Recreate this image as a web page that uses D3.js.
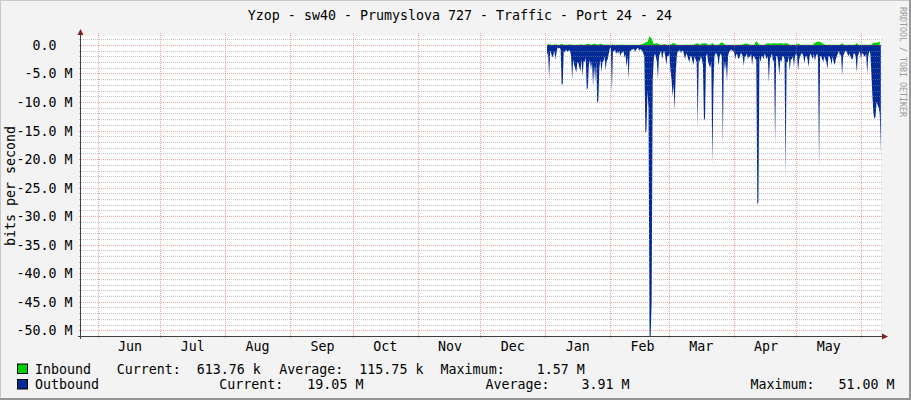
<!DOCTYPE html>
<html><head><meta charset="utf-8">
<script src="https://cdn.jsdelivr.net/npm/d3@7"></script>
<style>
html,body{margin:0;padding:0;background:#f3f3f3;}
svg{display:block;}
text{font-family:"DejaVu Sans Mono",monospace;font-size:13.3px;fill:#000;white-space:pre;}
</style></head><body>
<svg id="c" width="911" height="400"></svg>
<script>
// ---- data ----
const title = "Yzop - sw40 - Prumyslova 727 - Traffic - Port 24 - 24";
const yAxisTitle = "bits per second";
const watermark = "RRDTOOL / TOBI OETIKER";
const domainStart = "2013-05-24T02:45:00";
const domainEnd = "2014-06-10T09:50:00";
const monthTicks = ["2013-06-01","2013-07-01","2013-08-01","2013-09-01","2013-10-01","2013-11-01","2013-12-01","2014-01-01","2014-02-01","2014-03-01","2014-04-01","2014-05-01","2014-06-01"];
const monthLabels = ["Jun","Jul","Aug","Sep","Oct","Nov","Dec","Jan","Feb","Mar","Apr","May"];
const yMin = -51.0, yMax = 1.57;   // in M bits/s
const yTickValues = [0,-5,-10,-15,-20,-25,-30,-35,-40,-45,-50];
const yTickLabels = ["0.0  ","-5.0 M","-10.0 M","-15.0 M","-20.0 M","-25.0 M","-30.0 M","-35.0 M","-40.0 M","-45.0 M","-50.0 M"];
// inbound: one value per day; outbound: one value per 12 hours
const inboundStart = "2014-01-01T19:30:00";
const outboundStart = "2014-01-01T19:30:00";
const inboundM = [
0.02,0.15,0.02,0.02,0.12,0.02,0.02,0.20,0.02,0.02,
0.02,0.12,0.02,0.02,0.02,0.02,0.12,0.02,0.02,0.15,
0.20,0.02,0.18,0.22,0.02,0.15,0.20,0.02,0.02,0.02,
0.02,0.10,0.02,0.02,0.02,0.02,0.10,0.02,0.02,0.02,
0.02,0.02,0.02,0.02,0.02,0.10,0.20,0.45,0.50,1.57,
1.10,0.15,0.30,0.25,0.02,0.02,0.15,0.02,0.02,0.02,
0.28,0.30,0.02,0.02,0.02,0.02,0.02,0.02,0.02,0.02,
0.02,0.20,0.28,0.02,0.25,0.30,0.28,0.02,0.02,0.33,
0.02,0.02,0.02,0.40,0.45,0.02,0.02,0.02,0.02,0.02,
0.02,0.02,0.02,0.02,0.15,0.25,0.20,0.02,0.02,0.02,
0.74,0.15,0.02,0.02,0.02,0.25,0.30,0.20,0.28,0.30,
0.25,0.30,0.28,0.20,0.30,0.25,0.02,0.02,0.02,0.02,
0.25,0.02,0.02,0.02,0.02,0.02,0.02,0.02,0.40,0.50,
0.60,0.45,0.20,0.02,0.02,0.02,0.02,0.02,0.02,0.02,
0.02,0.30,0.02,0.02,0.02,0.02,0.02,0.02,0.30,0.02,
0.02,0.02,0.02,0.02,0.02,0.02,0.40,0.40,0.45,0.61];
const outboundM = [
2.0,1.2, 6.0,1.0, 1.5,2.2, 1.8,1.0, 2.6,1.4, 0.4,0.6, 0.5,0.8, 7.0,6.8, 1.0,1.3, 0.8,1.1,
1.2,0.9, 1.0,2.0, 6.1,2.5, 3.5,4.2, 4.8,3.0, 3.2,4.0, 4.6,2.5, 5.5,2.8, 3.0,2.2, 7.9,7.5,
3.5,2.6, 4.2,3.0, 7.3,3.5, 6.5,3.0, 10.2,9.8, 4.0,2.5, 4.8,3.0, 2.8,2.0, 4.5,2.8, 2.5,1.5,
0.6,0.5, 8.5,1.0, 1.2,0.8, 1.6,1.2, 1.5,1.0, 2.0,1.4, 1.3,1.0, 2.2,1.6, 3.8,2.0, 6.0,1.2,
1.0,0.8, 0.8,0.6, 1.2,0.9, 0.6,0.5, 1.0,0.7, 0.9,1.0, 1.5,2.0, 15.5,15.0, 8.0,11.0, 51.0,51.0,
45.0,6.0, 2.5,1.5, 2.0,3.0, 6.0,2.0, 1.5,1.0, 2.5,1.5, 1.0,2.0, 3.5,2.0, 2.0,1.5, 4.5,6.0,
9.0,7.0, 11.5,5.0, 2.0,1.0, 1.2,0.8, 1.5,1.0, 1.0,1.8, 2.5,1.5, 1.8,2.5, 3.0,2.0, 2.0,2.8,
3.5,2.0, 2.5,3.0, 14.5,2.5, 3.0,2.0, 2.5,3.5, 13.3,12.8, 2.0,1.5, 3.0,3.5, 4.0,3.0, 21.0,8.0,
2.0,1.5, 1.5,2.0, 3.6,2.0, 1.5,2.0, 17.5,2.5, 4.5,3.0, 6.5,2.0, 1.2,1.0, 0.8,1.0, 1.0,1.5,
2.5,1.5, 1.8,2.5, 2.2,1.5, 1.5,2.0, 3.7,2.0, 2.0,1.5, 2.5,2.0, 2.2,1.5, 3.5,2.0, 2.0,2.5,
2.5,28.0, 27.5,2.0, 3.0,2.0, 2.0,2.5, 1.5,2.0, 2.5,2.0, 6.6,2.5, 2.0,1.5, 3.0,2.5, 17.5,2.0,
2.0,3.0, 5.4,2.5, 3.0,2.0, 2.0,2.5, 23.0,3.0, 3.0,2.0, 4.5,2.5, 2.5,2.0, 3.8,2.0, 1.5,2.0,
4.5,2.5, 2.0,1.5, 1.5,2.0, 3.2,2.0, 2.0,2.5, 3.8,2.0, 1.5,2.0, 2.5,1.5, 2.8,2.0, 1.5,2.0,
21.5,2.0, 2.0,2.5, 3.0,2.0, 2.5,3.0, 4.2,2.0, 2.0,2.5, 3.5,2.0, 3.0,3.5, 2.5,2.0, 1.5,1.0,
2.0,1.5, 5.4,2.0, 1.5,1.0, 1.0,1.5, 2.0,1.5, 2.0,2.5, 2.5,1.5, 1.5,2.0, 4.8,2.0, 1.5,1.0,
2.5,1.5, 1.5,2.0, 2.0,1.5, 5.1,2.0, 1.0,1.5, 5.0,9.0, 12.0,13.0, 12.5,10.0, 10.5,11.0, 12.0,19.05];
const seriesNames = ["Inbound","Outbound"];
const seriesColors = ["#00CF00","#002A97"];
const legendInbound = [["Current:  613.76 k",116.7],["Average:  115.75 k",279.3],["Maximum:    1.57 M",440.6]];
const legendOutbound = [["Current:   19.05 M",219.3],["Average:    3.91 M",485.4],["Maximum:   51.00 M",750.5]];

// ---- layout ----
const W = 911, H = 400;
const L = 81, R = 881, T = 36, B = 336;
const svg = d3.select("#c");
const DAY = 86400000;

svg.append("rect").attr("width",W).attr("height",H).attr("fill","#f3f3f3");
svg.append("path").attr("d",`M0,${H} V0 H${W}`).attr("fill","none").attr("stroke","#c8c8c8").attr("stroke-width",2);
svg.append("path").attr("d",`M0,${H-1} H${W-1} V0`).attr("fill","none").attr("stroke","#969696").attr("stroke-width",2);

svg.append("rect").attr("x",L).attr("y",T).attr("width",R-L).attr("height",B-T).attr("fill","#ffffff");

const x = d3.scaleTime().domain([new Date(domainStart), new Date(domainEnd)]).range([L, R]);
const y = d3.scaleLinear().domain([yMin, yMax]).range([B, T]);

svg.append("clipPath").attr("id","clip").append("rect").attr("x",L).attr("y",T).attr("width",R-L).attr("height",B-T);

const ti = new Date(inboundStart).getTime();
const to = new Date(outboundStart).getTime();
const inData = inboundM.map((v,i)=>({t:new Date(ti+i*DAY), v}));
const outData = outboundM.map((v,i)=>({t:new Date(to+i*DAY/2), v:-v}));

const area = d3.area().x(d=>x(d.t)).y0(y(0)).y1(d=>y(d.v)).curve(d3.curveLinear);
const g = svg.append("g").attr("clip-path","url(#clip)");
g.append("path").datum(inData).attr("d",area).attr("fill",seriesColors[0]);
g.append("path").datum(outData).attr("d",area).attr("fill",seriesColors[1]);

// ---- grid (over the data) ----
const grid = svg.append("g");
const minorVals = d3.range(Math.ceil(yMin), Math.floor(yMax)+1).filter(v => v % 5 !== 0 && v > yMin);
grid.selectAll(".mn").data(minorVals).join("line")
  .attr("x1",L-2).attr("x2",R+2)
  .attr("y1",d=>Math.round(y(d))+0.5).attr("y2",d=>Math.round(y(d))+0.5)
  .attr("stroke","rgba(140,140,140,0.5)").attr("stroke-dasharray","1,1");
grid.selectAll(".mj").data(yTickValues).join("line")
  .attr("x1",L-2).attr("x2",R+2)
  .attr("y1",d=>Math.round(y(d))+0.5).attr("y2",d=>Math.round(y(d))+0.5)
  .attr("stroke","rgba(222,80,80,0.5)").attr("stroke-dasharray","1,1");
const mt = monthTicks.map(s=>new Date(s+"T00:00:00"));
grid.selectAll(".vx").data(mt).join("line")
  .attr("x1",d=>Math.round(x(d))+0.5).attr("x2",d=>Math.round(x(d))+0.5)
  .attr("y1",T-3).attr("y2",B+2)
  .attr("stroke","rgba(222,80,80,0.5)").attr("stroke-dasharray","1,1");

// ---- axes ----
svg.append("line").attr("x1",L-0.5).attr("x2",L-0.5).attr("y1",B+3).attr("y2",T-2).attr("stroke","#404040");
svg.append("line").attr("x1",L-3).attr("x2",R+2).attr("y1",B+0.5).attr("y2",B+0.5).attr("stroke","#404040");
svg.append("path").attr("d",`M${L-3.5},${T-1} L${L+2.5},${T-1} L${L-0.5},${T-7} Z`).attr("fill","#7f1f1f");
svg.append("path").attr("d",`M${R+1},${B-2.5} L${R+1},${B+3.5} L${R+7},${B+0.5} Z`).attr("fill","#7f1f1f");

svg.selectAll(".yl").data(yTickValues).join("text")
  .attr("x",72.5).attr("y",d=>Math.round(y(d))+0.5).attr("dy","0.36em")
  .attr("text-anchor","end").attr("xml:space","preserve")
  .text((d,i)=>yTickLabels[i]);
svg.selectAll(".xl").data(monthLabels).join("text")
  .attr("x",(d,i)=>x(new Date(mt[i].getTime()+15.5*DAY)))
  .attr("y",351).attr("text-anchor","middle").text(d=>d);

svg.append("text").attr("x",460).attr("y",19.5).attr("text-anchor","middle").text(title);
svg.append("text").attr("transform",`translate(14.5,${(T+B)/2}) rotate(-90)`).attr("text-anchor","middle").text(yAxisTitle);
svg.append("text").attr("transform","translate(900,7) rotate(90)").style("font-size","8.3px").style("fill","#9a9a9a").text(watermark);

// ---- legend ----
const rows = [[seriesNames[0],seriesColors[0],legendInbound,373.5],[seriesNames[1],seriesColors[1],legendOutbound,389]];
rows.forEach(([name,col,items,by])=>{
  svg.append("rect").attr("x",17.5).attr("y",by-9.5).attr("width",10).attr("height",9.5)
    .attr("fill",col).attr("stroke","#000").attr("stroke-width",1);
  svg.append("text").attr("x",35).attr("y",by).text(name);
  items.forEach(([s,px])=>svg.append("text").attr("x",px).attr("y",by).attr("xml:space","preserve").text(s));
});
</script>
</body></html>
